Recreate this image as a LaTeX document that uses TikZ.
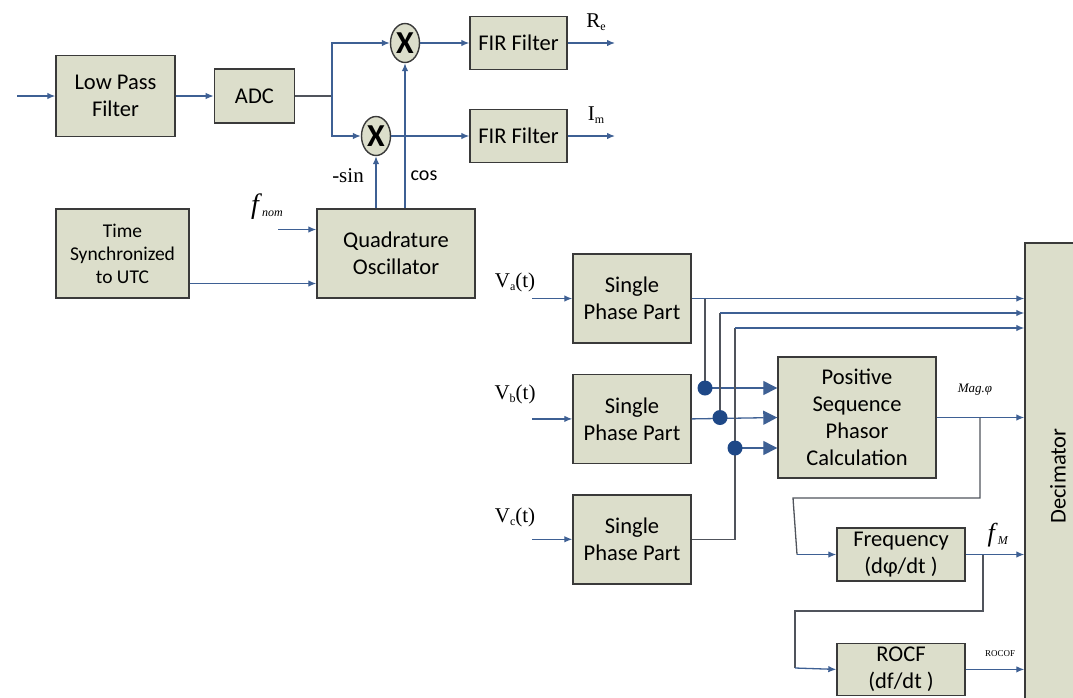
\documentclass[tikz,border=0pt]{standalone}
\usepackage{fontspec}
\setmainfont{Liberation Serif}
\newfontfamily\boxfont{Carlito}
\usetikzlibrary{positioning,arrows.meta,shapes.geometric}
\definecolor{boxfill}{RGB}{220,222,203}
\definecolor{boxline}{RGB}{58,58,58}
\definecolor{arrblue}{RGB}{62,96,148}
\definecolor{wiregray}{RGB}{80,84,92}
\definecolor{dotblue}{RGB}{30,72,135}
\newcommand\lowsub[1]{\raisebox{-3pt}{\fontsize{12}{12}\selectfont #1}}

\begin{document}
\begin{tikzpicture}[x=1pt, y=-1pt,
  box/.style={draw=boxline, line width=1.4pt, fill=boxfill, align=center,
              font=\boxfont\fontsize{22.5}{27}\selectfont, inner sep=2pt},
  mult/.style={ellipse, draw=boxline, line width=1.4pt, fill=boxfill,
               minimum width=29pt, minimum height=39pt, inner sep=0pt,
               font=\boxfont\bfseries\fontsize{32}{32}\selectfont},
  arr/.style={-{Latex[length=8pt,width=6.5pt]}, line width=1.3pt, arrblue},
  bigarr/.style={-{Triangle[length=14pt,width=14pt]}, line width=1.3pt, arrblue},
  wire/.style={line width=1.3pt, wiregray},
  dot/.style={circle, fill=dotblue, minimum size=15pt, inner sep=0pt},
  lbl/.style={font=\fontsize{21}{21}\selectfont, inner sep=0pt}
]
  \useasboundingbox (0,0) rectangle (1073,697);

  % Front end
  \coordinate (in) at (17,96);
  \node[box, minimum width=119pt, minimum height=81pt] (lpf) at (115.5,96) {Low Pass\\Filter};
  \node[box, minimum width=80pt, minimum height=54pt, right=38pt of lpf] (adc) {ADC};
  \coordinate (br) at (332,96);

  % Mixers and filters
  \node[mult] (mul1) at (405,43) {X};
  \node[mult] (mul2) at (376,136) {X};
  \node[box, minimum width=97pt, minimum height=53pt] (fir1) at (518.5,43) {FIR Filter};
  \node[box, minimum width=97pt, minimum height=53pt] (fir2) at (518.5,136) {FIR Filter};
  \coordinate (re) at (615,43);
  \coordinate (im) at (615,136);
  \node[lbl] (relbl) at (596,22) {R\lowsub{e}};
  \node[lbl] (imlbl) at (596,115) {I\lowsub{m}};

  % Oscillator
  \node[box, minimum width=158pt, minimum height=89pt] (qo) at (396,253.5) {Quadrature\\Oscillator};
  \node[box, minimum width=133pt, minimum height=89pt,
        font=\boxfont\fontsize{19.5}{23}\selectfont] (tsync) at (122.5,253.5) {Time\\Synchronized\\to UTC};
  \node[lbl] (sinlbl) at (348,176) {-sin};
  \node[lbl, font=\boxfont\fontsize{20}{20}\selectfont] (coslbl) at (424,176) {cos};
  \node[lbl] (fnom) at (267,207) {\fontsize{28}{28}\selectfont\textit{f}\lowsub{\textit{nom}}};
  \coordinate (fin) at (278,229.5);

  % Phase parts
  \node[box, minimum width=118pt, minimum height=89pt] (spa) at (632,298.5) {Single\\Phase Part};
  \node[box, minimum width=118pt, minimum height=89pt, below=30pt of spa] (spb) {Single\\Phase Part};
  \node[box, minimum width=118pt, minimum height=89pt, below=30pt of spb] (spc) {Single\\Phase Part};
  \coordinate (va) at ([xshift=-40pt]spa.west);
  \coordinate (vb) at ([xshift=-40pt]spb.west);
  \coordinate (vc) at ([xshift=-40pt]spc.west);
  \node[lbl] (valbl) at (515,282) {V\lowsub{a}(t)};
  \node[lbl] (vblbl) at (515,394) {V\lowsub{b}(t)};
  \node[lbl] (vclbl) at (515,517) {V\lowsub{c}(t)};

  % Phasor, frequency, rocof, decimator
  \node[box, minimum width=66pt, minimum height=466pt] (dec) at (1058,476) {\rotatebox{90}{Decimator}};
  \node[box, minimum width=158pt, minimum height=121pt] (psc) at (857,417.5) {Positive\\Sequence\\Phasor\\Calculation};
  \node[box, minimum width=128pt, minimum height=53pt] (freq) at (901,554.5) {Frequency\\(dφ/dt )};
  \node[box, minimum width=128pt, minimum height=52pt, below=61pt of freq] (rocf) {ROCF\\(df/dt )};
  \node[lbl, font=\itshape\fontsize{13}{13}\selectfont] (maglbl) at (975,390) {Mag.φ};
  \node[lbl] (fmlbl) at (998,535) {\fontsize{26}{26}\selectfont\textit{f}\lowsub{\textit{M}}};
  \node[lbl, font=\fontsize{9}{9}\selectfont] (roclbl) at (1000,654) {ROCOF};

  % junctions
  \coordinate (ja) at (705,388);
  \coordinate (jb) at (720,417.5);
  \coordinate (jc) at (735,448);
  \coordinate (rowb) at (720,313);
  \coordinate (rowc) at (735,328);
  \coordinate (jm) at (980,417.5);
  \coordinate (ma) at (980,498);
  \coordinate (mb) at (793,498);
  \coordinate (mc) at (797,554.5);
  \coordinate (jf) at (983,554.5);
  \coordinate (fa) at (983,611);
  \coordinate (fb) at (795,611);
  \coordinate (fc) at (795,668);

  % Arrows, top part
  \draw[arr] (in) -- (lpf);
  \draw[arr] (lpf) -- (adc);
  \draw[wire] (adc.east) -- (br);
  \draw[arr] (br) |- (mul1.west);
  \draw[arr] (br) |- (mul2.west);
  \draw[arr] (mul1) -- (fir1);
  \draw[arr] (mul2) -- (fir2);
  \draw[arr] (fir1) -- (re);
  \draw[arr] (fir2) -- (im);
  \draw[arr] (qo.north -| mul2) -- (mul2.south);
  \draw[arr] (qo.north -| mul1) -- (mul1.south);
  \draw[arr] (fin) -- (fin -| qo.west);
  \draw[arr] ([yshift=-30pt]tsync.east) -- ([yshift=-30pt]qo.west);

  % Arrows, right part
  \draw[arr] (va) -- (spa);
  \draw[arr] (vb) -- (spb);
  \draw[arr] (vc) -- (spc);
  \draw[arr] (spa.east) -- (spa.east -| dec.west);
  \draw[wire] (ja |- spa.east) -- (ja);
  \draw[bigarr] (ja) -- (ja -| psc.west);
  \draw[bigarr] (spb.east) -- (psc.west);
  \draw[wire] (jb) -- (rowb);
  \draw[arr] (rowb) -- (rowb -| dec.west);
  \draw[wire] (spc.east) -| (jc) -- (rowc);
  \draw[bigarr] (jc) -- (jc -| psc.west);
  \draw[arr] (rowc) -- (rowc -| dec.west);
  \draw[arr] (psc.east) -- (psc.east -| dec.west);
  \draw[wire] (jm) -- (ma) -- (mb) -- (mc);
  \draw[arr] (mc) -- (freq.west);
  \draw[arr] (freq.east) -- (freq.east -| dec.west);
  \draw[wire] (jf) -- (fa) -- (fb) -- (fc);
  \draw[arr] (fc) -- (rocf.west);
  \draw[arr] (rocf.east) -- (rocf.east -| dec.west);

  % dots
  \node[dot] (dota) at (ja) {};
  \node[dot] (dotb) at (jb) {};
  \node[dot] (dotc) at (jc) {};
\end{tikzpicture}
\end{document}
